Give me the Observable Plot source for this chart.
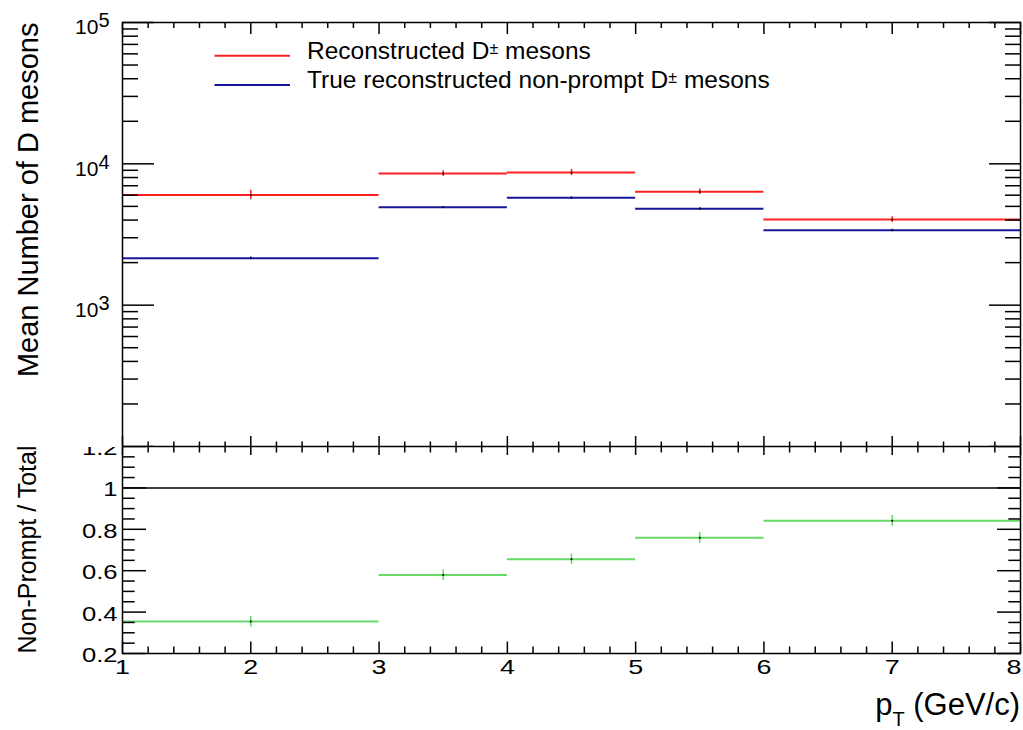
<!DOCTYPE html>
<html>
<head>
<meta charset="utf-8">
<script src="https://cdn.jsdelivr.net/npm/d3@7"></script>
<script src="https://cdn.jsdelivr.net/npm/@observablehq/plot@0.6"></script>
<style>
html, body { margin: 0; padding: 0; background: #fff; overflow: hidden; }
#chart { position: relative; width: 1023px; height: 730px; }
#chart svg { position: absolute; left: 0; top: 0; }
</style>
</head>
<body>
<div id="chart"></div>
<script>
// ---- data ----
const binLo = [1, 3, 4, 5, 6];
const binHi = [3, 4, 5, 6, 8];
const binCenter = [2, 3.5, 4.5, 5.5, 7];
const recoAll = [6030, 8550, 8700, 6350, 4030];
const recoAllErr = [470, 400, 450, 290, 185];
const recoNonPrompt = [2150, 4925, 5760, 4820, 3390];
const recoNonPromptErr = [45, 70, 75, 70, 60];
const ratio = [0.354, 0.579, 0.655, 0.759, 0.841];
const ratioErr = [0.026, 0.026, 0.026, 0.026, 0.026];

// ---- text ----
const yTitleTop = "Mean Number of D mesons";
const yTitleBottom = "Non-Prompt / Total";
const xTitleMain = "p";
const xTitleSub = "T";
const xTitleRest = " (GeV/c)";
const legendPre = ["Reconstructed D", "True reconstructed non-prompt D"];
const legendSup = ["\u00B1", "\u00B1"];
const legendPost = [" mesons", " mesons"];

// ---- ticks ----
const xMajor = [1, 2, 3, 4, 5, 6, 7, 8];
const xMinor = d3.range(5, 40).filter(i => i % 5).map(i => i / 5);
const logMajor = [1e2, 1e3, 1e4, 1e5];
const logLabels = [1e3, 1e4, 1e5];
const logExponents = ["3", "4", "5"];
const logMinor = [1e2, 1e3, 1e4].flatMap(d => d3.range(2, 10).map(k => k * d));
const ratioMajor = [0.2, 0.4, 0.6, 0.8, 1.0, 1.2];
const ratioMinor = d3.range(4, 25).filter(i => i % 4).map(i => i / 20);

const FONT = '"Liberation Sans", Arial, Helvetica, sans-serif';
const red = "#ff2020", blue = "#16169c", green = "#66d966";

const rows = binLo.map((lo, i) => ({
  lo, hi: binHi[i], c: binCenter[i],
  reco: recoAll[i], recoErr: recoAllErr[i],
  np: recoNonPrompt[i], npErr: recoNonPromptErr[i],
  r: ratio[i], rErr: ratioErr[i]
}));

function yTicks(ticks, size, anchor) {
  return Plot.axisY({anchor, ticks, tickSize: size, dx: anchor === "left" ? size : -size,
    fill: "none", label: null, strokeWidth: 1.5, tickFormat: null});
}
function xTicks(ticks, size, anchor) {
  return Plot.axisX({anchor, ticks, tickSize: size, dy: anchor === "bottom" ? -size : size,
    fill: "none", label: null, strokeWidth: 1.5, tickFormat: null});
}

// ---- top panel ----
const topPlot = Plot.plot({
  width: 1023, height: 447,
  marginLeft: 122, marginRight: 3, marginTop: 22, marginBottom: 1,
  style: {background: "white", fontFamily: FONT, overflow: "hidden", color: "black"},
  x: {domain: [1, 8]},
  y: {type: "log", domain: [100, 1e5]},
  marks: [
    Plot.ruleY(rows, {y: "reco", x1: "lo", x2: "hi", stroke: red, strokeWidth: 2}),
    Plot.ruleX(rows, {x: "c", y1: d => d.reco - d.recoErr, y2: d => d.reco + d.recoErr, stroke: red, strokeWidth: 1.5}),
    Plot.ruleY(rows, {y: "np", x1: "lo", x2: "hi", stroke: blue, strokeWidth: 2}),
    Plot.ruleX(rows, {x: "c", y1: d => d.np - d.npErr, y2: d => d.np + d.npErr, stroke: blue, strokeWidth: 1.5}),
    Plot.dot(rows, {x: "c", y: "reco", r: 1, fill: "black"}),
    Plot.dot(rows, {x: "c", y: "np", r: 1, fill: "black"}),
    yTicks(logMajor, 32, "left"),
    yTicks(logMinor, 16, "left"),
    yTicks(logMajor, 32, "right"),
    yTicks(logMinor, 16, "right"),
    xTicks(xMajor, 11, "top"),
    xTicks(xMinor, 5, "top"),
    xTicks(xMajor, 10, "bottom"),
    xTicks(xMinor, 4.5, "bottom"),
    Plot.axisY({anchor: "left", ticks: logLabels, tickSize: 0, tickPadding: 13, dy: 5, fontSize: 21,
      label: null, tickFormat: () => "10"}),
    Plot.text([yTitleTop], {frameAnchor: "top-left", text: d => d, rotate: -90, textAnchor: "end",
      lineAnchor: "bottom", dx: -85, fontSize: 29, fill: "black"}),
    Plot.frame({stroke: "black", strokeWidth: 1.5})
  ]
});

// ---- bottom (ratio) panel ----
const botPlot = Plot.plot({
  width: 1023, height: 730,
  marginLeft: 122, marginRight: 3, marginTop: 446, marginBottom: 77,
  style: {background: "white", fontFamily: FONT, color: "black"},
  x: {domain: [1, 8]},
  y: {domain: [0.2, 1.2]},
  marks: [
    Plot.ruleY([1], {stroke: "black", strokeWidth: 1.5}),
    Plot.ruleY(rows, {y: "r", x1: "lo", x2: "hi", stroke: green, strokeWidth: 2}),
    Plot.ruleX(rows, {x: "c", y1: d => d.r - d.rErr, y2: d => d.r + d.rErr, stroke: green, strokeWidth: 1.5}),
    Plot.dot(rows, {x: "c", y: "r", r: 1, fill: "black"}),
    yTicks(ratioMajor, 24, "left"),
    yTicks(ratioMinor, 12.7, "left"),
    yTicks(ratioMajor, 24, "right"),
    yTicks(ratioMinor, 12.7, "right"),
    xTicks(xMajor, 8, "top"),
    xTicks(xMinor, 5.5, "top"),
    xTicks(xMajor, 11.5, "bottom"),
    xTicks(xMinor, 6.5, "bottom"),
    Plot.axisY({anchor: "left", ticks: ratioMajor, tickSize: 0, tickPadding: 5, dy: 2, fontSize: 20,
      label: null, tickFormat: d => String(+d.toFixed(1))}),
    Plot.axisX({anchor: "bottom", ticks: xMajor, tickSize: 0, tickPadding: 6, fontSize: 21,
      label: null, tickFormat: d => String(d)}),
    Plot.text([yTitleBottom], {frameAnchor: "top-left", text: d => d, rotate: -90, textAnchor: "end",
      lineAnchor: "bottom", dx: -87, dy: -1, fontSize: 25, fill: "black"}),
    Plot.frame({stroke: "black", strokeWidth: 1.5})
  ]
});

const chart = document.getElementById("chart");
chart.appendChild(botPlot);
chart.appendChild(topPlot);

// superscript exponents for the log-axis labels ("10" + raised exponent)
d3.select(topPlot).selectAll('g[aria-label="y-axis tick label"] text').each(function(_, i) {
  d3.select(this).append("tspan").attr("dy", -7).attr("font-size", 20).text(logExponents[i] ?? "");
});

// ROOT stretches the ratio-pad labels horizontally
const stretch = 1.28;
d3.select(botPlot).selectAll('g[aria-label="y-axis tick label"] text, g[aria-label="x-axis tick label"] text')
  .each(function() {
    const tr = this.getAttribute("transform") || "";
    this.setAttribute("transform", tr + ` scale(${stretch},1)`);
  });
const xLabs = d3.select(botPlot).selectAll('g[aria-label="x-axis tick label"] text').nodes();
if (xLabs.length) xLabs[xLabs.length - 1].setAttribute("dx", -5);

// legend
const legendColors = [red, blue];
const legendLineY = [55.7, 85];
const legendTextY = [59, 88];
const lg = d3.select(topPlot).append("g").attr("font-family", FONT).attr("font-size", 24.5)
  .attr("fill", "black").attr("text-anchor", "start");
legendPre.forEach((pre, i) => {
  lg.append("line").attr("x1", 214.5).attr("x2", 290).attr("y1", legendLineY[i]).attr("y2", legendLineY[i])
    .attr("stroke", legendColors[i]).attr("stroke-width", 2);
  const t = lg.append("text").attr("x", 307).attr("y", legendTextY[i]).attr("text-anchor", "start");
  t.append("tspan").text(pre);
  t.append("tspan").attr("dy", -5).attr("font-size", 16).text(legendSup[i]);
  t.append("tspan").attr("dy", 5).text(legendPost[i]);
});

// x-axis title with subscript
const xt = d3.select(botPlot).append("text").attr("x", 1020).attr("y", 715)
  .attr("text-anchor", "end").attr("font-family", FONT).attr("font-size", 31).attr("fill", "black");
xt.append("tspan").text(xTitleMain);
xt.append("tspan").attr("dy", 11).attr("font-size", 20).text(xTitleSub);
xt.append("tspan").attr("dy", -11).text(xTitleRest);
</script>
</body>
</html>
